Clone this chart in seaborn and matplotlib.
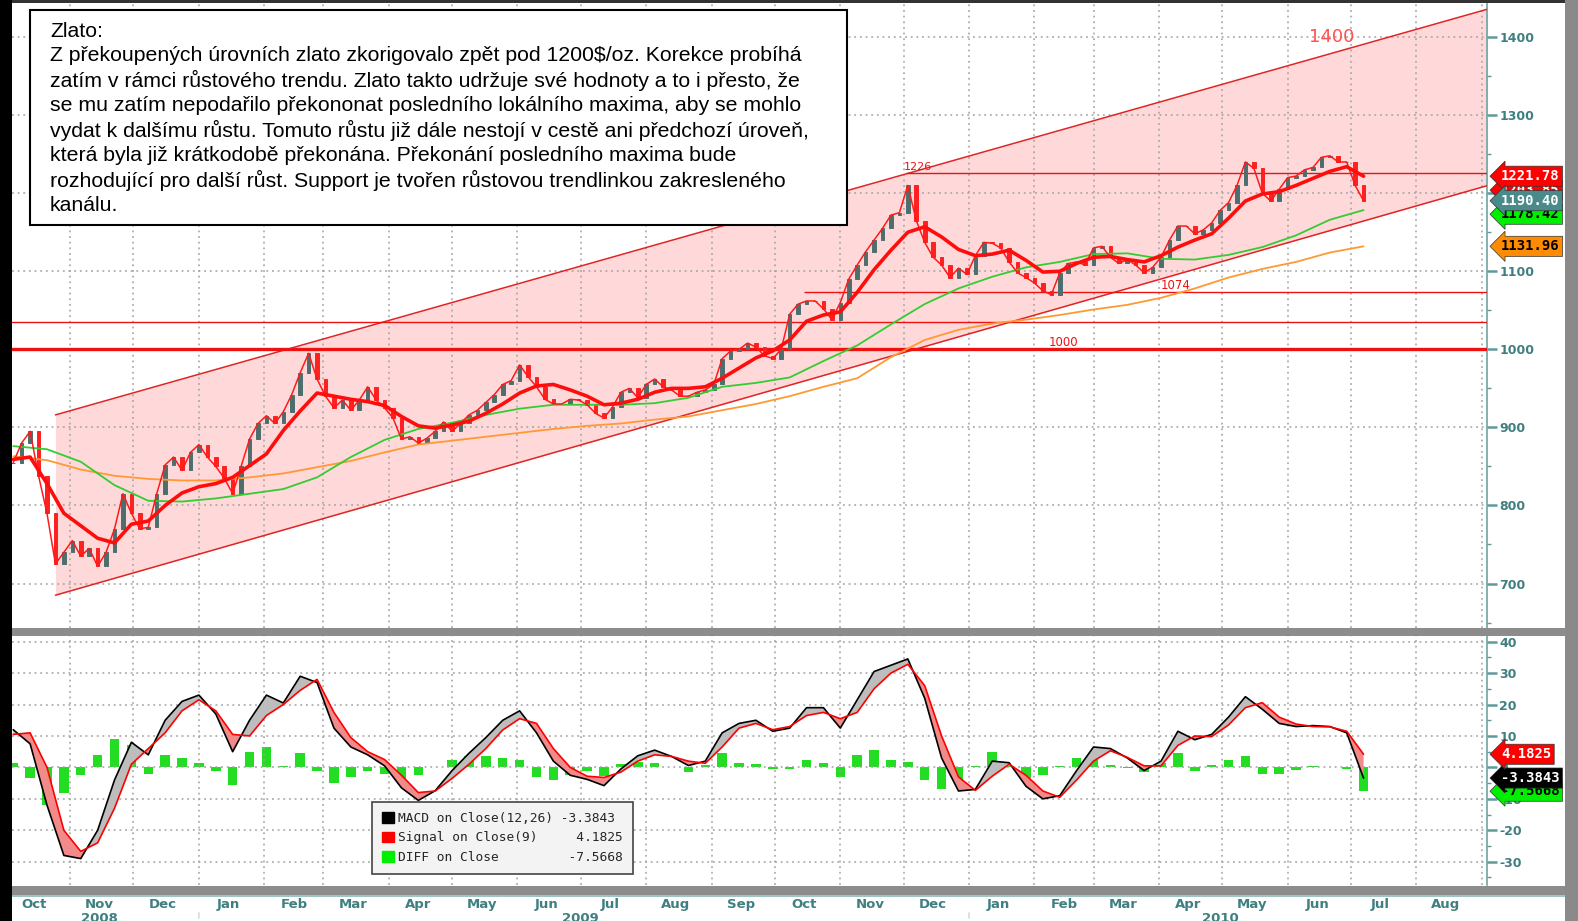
import numpy as np
import pandas as pd
import seaborn as sns
import matplotlib.pyplot as plt
import matplotlib.dates as mdates
from matplotlib.ticker import MultipleLocator
from matplotlib.patches import Rectangle, Patch

# ======================
# data
# ======================
# gold close, one value every 4 days from 5 Oct 2008
close = [855, 880, 895, 838, 790, 725, 740, 755, 735, 745,
         722, 740, 770, 815, 790, 770, 772, 815, 852, 862,
         845, 868, 878, 862, 850, 835, 815, 850, 885, 905,
         915, 905, 920, 942, 970, 995, 962, 940, 925, 935,
         922, 935, 952, 935, 925, 912, 885, 888, 880, 886,
         895, 907, 895, 905, 916, 922, 932, 942, 955, 960,
         980, 965, 952, 936, 930, 930, 936, 935, 929, 918,
         912, 926, 945, 950, 938, 955, 962, 952, 948, 940,
         940, 945, 948, 955, 988, 998, 1000, 1008, 1003, 992,
         988, 1000, 1045, 1058, 1062, 1062, 1052, 1038, 1060, 1090,
         1108, 1125, 1140, 1155, 1172, 1175, 1210, 1165, 1137, 1118,
         1108, 1092, 1104, 1096, 1120, 1137, 1136, 1130, 1112, 1098,
         1092, 1085, 1075, 1070, 1098, 1110, 1112, 1108, 1130, 1132,
         1118, 1110, 1115, 1108, 1098, 1105, 1118, 1140, 1158, 1158,
         1148, 1153, 1162, 1178, 1188, 1210, 1240, 1232, 1200, 1190,
         1205, 1220, 1222, 1230, 1233, 1246, 1248, 1240, 1240, 1210,
         1190.40]

# short moving average (thick red), one value every 8 days
ma_short = [859, 862, 828, 790, 774, 758, 752, 776, 780, 800,
            816, 824, 828, 836, 851, 866, 896, 921, 944, 940,
            936, 933, 928, 914, 902, 899, 903, 908, 918, 930,
            944, 953, 955, 948, 940, 929, 931, 936, 945, 950,
            950, 952, 963, 976, 989, 998, 1012, 1036, 1044, 1048,
            1073, 1102, 1127, 1150, 1157, 1144, 1128, 1120, 1122, 1127,
            1114, 1099, 1100, 1110, 1118, 1119, 1115, 1112, 1120, 1131,
            1140, 1148, 1168, 1190, 1199, 1202, 1210, 1219, 1228, 1234,
            1221.78]

# long moving averages, one value every 16 days
ma_100 = [876, 872, 856, 826, 806, 805, 809, 815, 821, 836,
          862, 884, 898, 906, 916, 924, 929, 929, 929, 931,
          938, 952, 957, 964, 985, 1005, 1032, 1058, 1078, 1093,
          1105, 1112, 1122, 1123, 1116, 1115, 1121, 1131, 1146, 1166,
          1178.42]
ma_200 = [863, 858, 846, 838, 834, 832, 832, 836, 841, 849,
          857, 868, 878, 883, 888, 893, 898, 902, 905, 910,
          914, 922, 930, 940, 952, 963, 990, 1012, 1025, 1033,
          1038, 1044, 1051, 1057, 1066, 1078, 1092, 1103, 1112, 1124,
          1131.96]

# MACD panel, one value every 8 days
macd = [12, 7.5, -12, -28, -29, -20, -4, 8, 4, 15,
        21, 23, 17, 5, 15, 23, 20.5, 29, 27, 12.5,
        6.5, 4, 0.5, -6.5, -10.5, -7.4, -1, 4.5, 9.5, 15,
        18, 11, 2, -2.5, -3.8, -5.8, -0.5, 3.7, 5.5, 3.5,
        0.6, 2, 11, 14, 15, 11.5, 12.5, 19, 19, 12.5,
        21.5, 30.5, 32.5, 34.5, 22, 3, -7.5, -7, 2, 1.5,
        -6, -10, -9, -1, 6.5, 6, 3, -1, 2, 11.5,
        8.8, 10.5, 16, 22.5, 18.5, 14, 13, 13.3, 13, 11,
        -3.3843]
signal = [10.5, 11, 0, -20, -26.7, -24, -13, 1, 6, 11,
          18, 21.5, 18, 10.5, 10, 16.5, 20, 24.5, 28, 17.5,
          9.5, 5, 2.5, -2.5, -8, -7.5, -3.5, 1, 6, 11.9,
          15.5, 14, 6, 0, -2.8, -3.2, -1.5, 2, 4, 3.5,
          2, 1.3, 6.5, 12.5, 14, 12, 13, 16.5, 17.5, 15.5,
          17.5, 25, 30, 32.8, 26, 10, -3, -7.3, -2.8, 1,
          -2.5, -7.5, -9.5, -4, 2, 5.3, 3.2, 0.5, 0.5, 7,
          10, 9.8, 13.5, 19, 20.6, 16, 13.8, 13, 12.9, 11.5,
          4.1825]

# trend channel and horizontal levels
chan_dates = ["2008-10-25", "2010-09-04"]
chan_upper = [916, 1436]
chan_lower = [685, 1210]
lvl_full = [1000, 1035]
lvl_1226_start, lvl_1226 = "2009-12-02", 1226
lvl_1074_start, lvl_1074 = "2009-10-15", 1073

# right axis tags: value, text, box colour, text colour, nudge (pt)
price_tags = [(1203.85, "1203.85", "#ff0000", "white", 0),
              (1221.78, "1221.78", "#ff0000", "white", 0),
              (1178.42, "1178.42", "#00ee00", "black", -3),
              (1190.40, "1190.40", "#4a8a8a", "white", 0),
              (1131.96, "1131.96", "#ff8c00", "black", 0)]
macd_tags = [(-7.5668, "-7.5668", "#00ee00", "black", 0),
             (-3.3843, "-3.3843", "black", "white", 0),
             (4.1825, "4.1825", "#ff0000", "white", 0)]

legend_labels = ["MACD on Close(12,26) -3.3843",
                 "Signal on Close(9)     4.1825",
                 "DIFF on Close         -7.5668"]

note = ("Zlato:\n"
        "Z překoupených úrovních zlato zkorigovalo zpět pod 1200\\$/oz. Korekce probíhá\n"
        "zatím v rámci růstového trendu. Zlato takto udržuje své hodnoty a to i přesto, že\n"
        "se mu zatím nepodařilo překononat posledního lokálního maxima, aby se mohlo\n"
        "vydat k dalšímu růstu. Tomuto růstu již dále nestojí v cestě ani předchozí úroveň,\n"
        "která byla již krátkodobě překonána. Překonání posledního maxima bude\n"
        "rozhodující pro další růst. Support je tvořen růstovou trendlinkou zakresleného\n"
        "kanálu.")

# ======================
# style
# ======================
sns.set_theme(style="white")
plt.rcParams["font.family"] = ["DejaVu Sans"]
plt.rcParams["axes.unicode_minus"] = False

TEAL = "#3f7f80"
GRID = "#a0a0a0"

W, H = 1578, 921
fig = plt.figure(figsize=(W / 100, H / 100), dpi=100)
fig.patch.set_facecolor("white")


def fx(px):
    return px / W


def fy(py):
    return 1 - py / H


ax = fig.add_axes([fx(12), fy(628), fx(1487) - fx(12), fy(3) - fy(628)])
axm = fig.add_axes([fx(12), fy(885), fx(1487) - fx(12), fy(636) - fy(885)], sharex=ax)

d_close = pd.date_range("2008-10-05", periods=len(close), freq="4D")
d_ma = pd.date_range("2008-10-05", periods=len(ma_100), freq="16D")
d_8 = pd.date_range("2008-10-05", periods=len(macd), freq="8D")

# ======================
# price panel
# ======================
cd = pd.to_datetime(chan_dates)
ax.fill_between(cd, chan_lower, chan_upper, color="#ffd9d9", lw=0, zorder=1)
ax.plot(cd, chan_upper, color="#e02424", lw=1.1, zorder=3)
ax.plot(cd, chan_lower, color="#e02424", lw=1.1, zorder=3)

for lv in lvl_full:
    ax.axhline(lv, color="#ee1111", lw=2.4 if lv == 1000 else 1.0, zorder=3)
ax.hlines(lvl_1226, pd.Timestamp(lvl_1226_start), d_close[-1] + pd.Timedelta(days=90),
          color="#ee1111", lw=1.0, zorder=3)
ax.hlines(lvl_1074, pd.Timestamp(lvl_1074_start), d_close[-1] + pd.Timedelta(days=90),
          color="#ee1111", lw=1.0, zorder=3)

c = np.array(close, dtype=float)
o = np.r_[c[0], c[:-1]]
up = c >= o
ax.bar(d_close[up], (c - o)[up], bottom=o[up], width=1.7, color="#4e6e6e",
       edgecolor="#4e6e6e", lw=0.7, zorder=4)
ax.bar(d_close[~up], (c - o)[~up], bottom=o[~up], width=1.7, color="#ff2020",
       edgecolor="#ff2020", lw=0.7, zorder=4)

df_ma = pd.DataFrame({"date": d_ma, "m100": ma_100, "m200": ma_200})
sns.lineplot(data=df_ma, x="date", y="m200", ax=ax, color="#ff9933", lw=1.3, zorder=5)
sns.lineplot(data=df_ma, x="date", y="m100", ax=ax, color="#33cc33", lw=1.3, zorder=5)
sns.lineplot(x=d_close, y=close, ax=ax, color="#ff1a1a", lw=1.1, zorder=6)
sns.lineplot(x=d_8, y=ma_short, ax=ax, color="#ff0d0d", lw=2.6, zorder=7)

ax.text(pd.Timestamp("2010-06-22"), 1400, "1400", color="#ff5050", fontsize=13,
        ha="center", va="center", zorder=6)
ax.text(pd.Timestamp("2009-12-08"), lvl_1226 + 1, "1226", color="#ee1111", fontsize=8,
        ha="center", va="bottom", zorder=6)
ax.text(pd.Timestamp("2010-04-09"), lvl_1074 + 1, "1074", color="#ee1111", fontsize=8.5,
        ha="center", va="bottom", zorder=6)
ax.text(pd.Timestamp("2010-02-15"), 1001, "1000", color="#ee1111", fontsize=8.5,
        ha="center", va="bottom", zorder=6)

ax.set_xlim(pd.Timestamp("2008-10-04 10:00"), pd.Timestamp("2010-09-03 12:00"))
ax.set_ylim(643, 1443.7)
ax.yaxis.set_major_locator(MultipleLocator(100))
ax.yaxis.set_minor_locator(MultipleLocator(50))

# ======================
# MACD panel
# ======================
mv = np.array(macd)
sv = np.array(signal)
diff = mv - sv
axm.bar(d_8, diff, width=4.5, color="#22dd22", lw=0, zorder=2)
axm.fill_between(d_8, mv, sv, where=mv >= sv, interpolate=True, color="#bdbdbd", lw=0, zorder=3)
axm.fill_between(d_8, mv, sv, where=mv < sv, interpolate=True, color="#f28a8a", lw=0, zorder=3)
sns.lineplot(x=d_8, y=macd, ax=axm, color="black", lw=1.2, zorder=4)
sns.lineplot(x=d_8, y=signal, ax=axm, color="#ff0000", lw=1.2, zorder=4)
axm.set_ylim(-37.4, 41.8)
axm.yaxis.set_major_locator(MultipleLocator(10))
axm.yaxis.set_minor_locator(MultipleLocator(5))

handles = [Patch(fc="black", ec="black"), Patch(fc="#ff0000", ec="#ff0000"),
           Patch(fc="#00ee00", ec="#00ee00")]
leg = axm.legend(handles, legend_labels, loc="upper left", bbox_to_anchor=(0.244, 0.335),
                 prop={"family": "DejaVu Sans Mono", "size": 9.3}, frameon=True,
                 fancybox=False, framealpha=1, facecolor="#f3f3f3", edgecolor="#444444",
                 handlelength=0.9, handleheight=0.9, handletextpad=0.35,
                 borderpad=0.8, labelspacing=0.5, borderaxespad=0)
leg.get_frame().set_linewidth(1.2)
leg.set_zorder(10)

# ======================
# axes cosmetics
# ======================
for a in (ax, axm):
    a.set_facecolor("white")
    a.set_axisbelow(False)
    for s in ("top", "left", "bottom"):
        a.spines[s].set_visible(False)
    a.spines["right"].set_color("#6fa3a3")
    a.spines["right"].set_linewidth(1.2)
    a.yaxis.tick_right()
    a.tick_params(axis="y", which="major", direction="out", length=7, width=1.8,
                  color="#5f9a9a", labelcolor=TEAL, labelsize=9, pad=2)
    a.tick_params(axis="y", which="minor", direction="out", length=3, width=1,
                  color="#5f9a9a")
    a.xaxis.set_major_locator(mdates.MonthLocator(bymonthday=15))
    a.xaxis.set_minor_locator(mdates.MonthLocator())
    a.grid(True, which="minor", axis="x", color=GRID, ls=(0, (1.2, 2.5)), lw=1.1)
    a.grid(True, which="major", axis="y", color=GRID, ls=(0, (1.2, 2.5)), lw=1.1)
    a.grid(False, which="major", axis="x")
    a.set_xlabel("")
    a.set_ylabel("")
    for lbl in a.get_yticklabels():
        lbl.set_fontweight("bold")

ax.tick_params(axis="x", which="both", bottom=False, labelbottom=False)
axm.xaxis.set_major_formatter(mdates.DateFormatter("%b"))
axm.tick_params(axis="x", which="major", length=0, pad=9.5, labelsize=9.5, labelcolor=TEAL)
axm.tick_params(axis="x", which="minor", length=0)
for lbl in axm.get_xticklabels():
    lbl.set_fontweight("bold")


def tag(a, val, txt, fc, tc, nudge):
    a.annotate(txt, xy=(1.0, val), xycoords=("axes fraction", "data"),
               xytext=(10, nudge), textcoords="offset points", ha="left", va="center",
               fontsize=10, family="DejaVu Sans Mono", fontweight="bold", color=tc,
               bbox=dict(boxstyle="larrow,pad=0.22", fc=fc, ec="#333333", lw=0.5),
               annotation_clip=False, zorder=20)


for val, txt, fc, tc, nd in price_tags:
    tag(ax, val, txt, fc, tc, nd)
for val, txt, fc, tc, nd in macd_tags:
    tag(axm, val, txt, fc, tc, nd)

# year labels below the months (cut by the bottom edge, as in the terminal shot)
for yr, d in (("2008", "2008-11-15"), ("2009", "2009-07-01"), ("2010", "2010-04-30")):
    axm.annotate(yr, xy=(pd.Timestamp(d), 0), xycoords=("data", "figure fraction"),
                 xytext=(0, 1.5), textcoords="offset points", ha="center", va="center",
                 fontsize=9.5, fontweight="bold", color=TEAL, annotation_clip=False)
for d in ("2009-01-01", "2010-01-01"):
    axm.annotate("", xy=(pd.Timestamp(d), fy(921)), xycoords=("data", "figure fraction"),
                 xytext=(pd.Timestamp(d), fy(910)), textcoords=("data", "figure fraction"),
                 arrowprops=dict(arrowstyle="-", color="#c8d8d8", lw=1),
                 annotation_clip=False)

# frame pieces of the terminal screenshot
fig.add_artist(Rectangle((0, 0), fx(12), 1, transform=fig.transFigure,
                         fc="black", ec="none", zorder=30))
fig.add_artist(Rectangle((fx(1565), 0), 1 - fx(1565), 1, transform=fig.transFigure,
                         fc="#8a8a8a", ec="none", zorder=30))
fig.add_artist(Rectangle((fx(12), fy(636)), fx(1565) - fx(12), fy(628) - fy(636),
                         transform=fig.transFigure, fc="#8c8c8c", ec="none", zorder=30))
fig.add_artist(Rectangle((fx(12), fy(895)), fx(1565) - fx(12), fy(886) - fy(895),
                         transform=fig.transFigure, fc="#8c8c8c", ec="none", zorder=30))
fig.add_artist(Rectangle((fx(12), fy(897)), fx(1565) - fx(12), fy(895) - fy(897),
                         transform=fig.transFigure, fc="#9fc4c4", ec="none", zorder=30))
fig.add_artist(Rectangle((fx(12), fy(3)), fx(1565) - fx(12), fy(0) - fy(3),
                         transform=fig.transFigure, fc="#333333", ec="none", zorder=30))

# comment box
fig.add_artist(Rectangle((fx(30), fy(225)), fx(847) - fx(30), fy(10) - fy(225),
                         transform=fig.transFigure, fc="white", ec="black", lw=1.5, zorder=40))
fig.text(fx(50), fy(22), note, ha="left", va="top", fontsize=15.3,
         family=["Liberation Sans", "DejaVu Sans"], linespacing=1.31, color="black", zorder=41)

fig.savefig("out.png", dpi=100)
